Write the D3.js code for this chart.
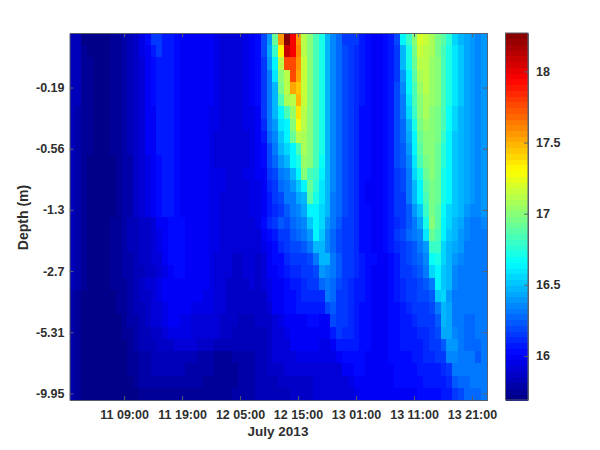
<!DOCTYPE html>
<html>
<head>
<meta charset="utf-8">
<script src="https://cdn.jsdelivr.net/npm/d3@7"></script>
<style>
html,body{margin:0;padding:0;background:#fff}
svg{display:block}
text{font-family:"Liberation Sans",Arial,sans-serif;font-weight:bold;fill:#2e2e2e}
</style>
</head>
<body>
<div id="chart"></div>
<script>
const depthLabels = ["-0.19","-0.56","-1.3","-2.7","-5.31","-9.95"];
const depthLabelRows = [4,9,14,19,24,29];
const timeLabels = ["11 09:00","11 19:00","12 05:00","12 15:00","13 01:00","13 11:00","13 21:00"];
const timeLabelCols = [9,19,29,39,49,59,69];
const colorTicks = [16,16.5,17,17.5,18];
const colorRange = [15.69,18.27];
const xTitle = "July 2013";
const yTitle = "Depth (m)";
const jetStops = ["#000080","#0000ff","#00ffff","#ffff00","#ff0000","#800000"];
const jetPositions = [0,0.125,0.375,0.625,0.875,1];
// Temperature, one row per depth (top to bottom), one value per hour.
const temperature = [
[15.83,15.82,15.72,15.72,15.72,15.72,15.72,15.74,15.75,15.79,15.83,15.88,15.95,16.04,16.14,16.14,16.09,16.06,16.02,16.01,16.01,16.01,16.0,15.99,15.98,15.95,15.93,15.93,15.93,15.93,15.95,15.99,16.04,16.2,16.4,16.91,17.56,18.27,17.95,17.56,17.14,16.98,16.85,16.72,16.49,16.36,16.27,16.17,16.14,16.14,16.07,16.02,16.01,16.01,16.04,16.07,16.2,16.62,16.78,16.98,17.2,17.17,17.07,16.94,16.88,16.75,16.56,16.49,16.43,16.40,16.36,16.40],
[15.83,15.82,15.75,15.72,15.72,15.72,15.72,15.74,15.75,15.79,15.83,15.88,15.94,15.99,16.07,16.14,16.09,16.06,16.02,16.01,16.01,16.01,16.0,15.99,15.98,15.95,15.93,15.93,15.93,15.93,15.95,15.99,16.04,16.2,16.43,16.78,17.33,18.08,17.95,17.59,17.14,16.98,16.85,16.72,16.49,16.36,16.27,16.2,16.14,16.13,16.07,16.02,16.01,16.01,16.03,16.07,16.17,16.46,16.72,16.94,17.17,17.14,17.07,16.94,16.85,16.72,16.59,16.53,16.43,16.40,16.36,16.40],
[15.83,15.82,15.77,15.74,15.72,15.72,15.72,15.74,15.75,15.79,15.82,15.87,15.92,15.98,16.04,16.09,16.09,16.07,16.03,16.01,16.01,16.01,16.0,15.99,15.98,15.95,15.93,15.93,15.92,15.92,15.95,15.98,16.03,16.17,16.4,16.65,17.11,17.78,17.78,17.56,17.17,16.98,16.85,16.72,16.49,16.36,16.27,16.2,16.14,16.13,16.07,16.02,16.01,16.01,16.03,16.07,16.17,16.46,16.72,16.91,17.11,17.14,17.04,16.98,16.85,16.72,16.59,16.53,16.43,16.40,16.36,16.40],
[15.83,15.82,15.77,15.74,15.72,15.72,15.72,15.74,15.75,15.79,15.82,15.87,15.92,15.98,16.04,16.09,16.09,16.07,16.03,16.01,16.01,16.01,16.0,15.99,15.98,15.95,15.93,15.92,15.92,15.92,15.95,15.98,16.02,16.14,16.33,16.59,17.0,17.14,17.75,17.53,17.17,16.98,16.85,16.72,16.49,16.36,16.27,16.2,16.14,16.13,16.07,16.02,16.01,16.01,16.03,16.07,16.17,16.4,16.65,16.88,17.07,17.11,17.04,16.98,16.85,16.72,16.59,16.53,16.43,16.40,16.36,16.40],
[15.83,15.82,15.77,15.74,15.72,15.72,15.72,15.74,15.75,15.79,15.82,15.87,15.92,15.98,16.04,16.09,16.09,16.07,16.03,16.01,16.01,16.01,16.0,15.99,15.98,15.94,15.93,15.92,15.92,15.92,15.95,15.98,16.02,16.14,16.33,16.49,16.94,17.14,17.53,17.46,17.17,16.98,16.85,16.72,16.49,16.36,16.27,16.2,16.15,16.11,16.07,16.02,16.01,16.01,16.03,16.07,16.2,16.36,16.62,16.85,17.04,17.11,17.04,16.98,16.85,16.72,16.59,16.53,16.43,16.40,16.36,16.40],
[15.83,15.82,15.77,15.74,15.72,15.72,15.72,15.74,15.75,15.79,15.82,15.87,15.92,15.98,16.04,16.09,16.09,16.07,16.03,16.01,16.01,16.01,16.0,15.99,15.98,15.94,15.93,15.92,15.91,15.91,15.95,15.98,16.02,16.14,16.33,16.46,16.82,17.07,17.14,17.49,17.17,16.98,16.85,16.72,16.49,16.36,16.27,16.2,16.15,16.11,16.07,16.02,16.01,16.01,16.03,16.07,16.2,16.33,16.59,16.82,17.01,17.07,17.04,16.98,16.85,16.72,16.59,16.53,16.43,16.40,16.36,16.40],
[15.83,15.81,15.77,15.74,15.72,15.72,15.72,15.74,15.75,15.78,15.82,15.87,15.92,15.98,16.01,16.07,16.07,16.07,16.02,16.01,16.01,16.01,16.0,15.99,15.97,15.94,15.93,15.92,15.91,15.91,15.94,15.97,16.01,16.14,16.30,16.46,16.65,16.85,17.04,17.36,17.14,16.98,16.85,16.72,16.49,16.36,16.27,16.2,16.15,16.11,16.04,16.02,16.01,16.01,16.03,16.07,16.2,16.3,16.56,16.78,16.98,17.07,17.01,16.94,16.82,16.69,16.56,16.49,16.43,16.40,16.36,16.40],
[15.83,15.81,15.77,15.74,15.72,15.72,15.72,15.74,15.75,15.78,15.82,15.87,15.92,15.98,16.01,16.07,16.07,16.07,16.02,16.01,16.01,16.01,16.0,15.99,15.97,15.94,15.92,15.91,15.91,15.91,15.94,15.97,16.01,16.12,16.33,16.40,16.59,16.65,16.98,17.27,17.11,16.98,16.85,16.72,16.49,16.36,16.27,16.2,16.15,16.11,16.04,16.02,16.01,16.01,16.03,16.07,16.2,16.27,16.49,16.72,16.94,17.04,17.01,16.94,16.82,16.69,16.56,16.49,16.43,16.40,16.36,16.40],
[15.83,15.81,15.77,15.74,15.72,15.72,15.72,15.74,15.75,15.78,15.82,15.87,15.92,15.98,16.01,16.07,16.07,16.07,16.02,16.01,16.01,16.01,16.0,15.99,15.97,15.93,15.92,15.91,15.9,15.9,15.93,15.96,16.0,16.07,16.27,16.36,16.53,16.65,16.91,17.11,17.07,16.98,16.85,16.72,16.49,16.36,16.27,16.2,16.15,16.11,16.04,16.02,16.01,16.01,16.03,16.07,16.2,16.27,16.43,16.65,16.91,17.01,17.01,16.94,16.78,16.65,16.53,16.49,16.43,16.40,16.36,16.40],
[15.83,15.81,15.77,15.74,15.72,15.72,15.72,15.74,15.75,15.78,15.82,15.87,15.92,15.98,16.01,16.07,16.07,16.07,16.02,16.01,16.01,16.01,16.0,15.99,15.97,15.93,15.92,15.9,15.9,15.9,15.92,15.95,15.98,16.04,16.2,16.33,16.46,16.56,16.65,16.82,17.07,16.98,16.85,16.72,16.49,16.36,16.27,16.2,16.15,16.11,16.04,16.02,16.01,16.01,16.03,16.07,16.2,16.24,16.4,16.62,16.88,16.98,16.98,16.91,16.75,16.65,16.53,16.49,16.43,16.40,16.36,16.40],
[15.83,15.79,15.74,15.72,15.72,15.72,15.72,15.73,15.75,15.78,15.81,15.86,15.91,15.96,16.01,16.03,16.06,16.06,16.03,16.01,16.01,16.01,16.0,15.98,15.97,15.93,15.91,15.9,15.9,15.9,15.92,15.95,15.98,16.04,16.2,16.27,16.4,16.46,16.62,16.72,17.04,16.98,16.85,16.69,16.49,16.36,16.27,16.2,16.15,16.11,16.04,16.02,16.01,16.01,16.03,16.07,16.2,16.24,16.36,16.59,16.82,16.94,16.98,16.91,16.75,16.65,16.53,16.49,16.43,16.40,16.36,16.40],
[15.83,15.79,15.74,15.72,15.72,15.72,15.72,15.73,15.75,15.78,15.81,15.86,15.91,15.96,16.01,16.03,16.06,16.06,16.03,16.01,16.01,16.01,16.0,15.98,15.97,15.96,15.94,15.93,15.92,15.92,15.94,15.96,15.98,16.01,16.14,16.2,16.3,16.36,16.46,16.65,16.98,16.85,16.78,16.62,16.49,16.36,16.27,16.2,16.15,16.11,16.04,16.02,16.01,16.01,16.03,16.07,16.17,16.2,16.33,16.56,16.72,16.91,16.98,16.91,16.72,16.62,16.53,16.49,16.43,16.40,16.36,16.40],
[15.83,15.79,15.74,15.72,15.72,15.72,15.72,15.73,15.75,15.78,15.81,15.86,15.91,15.96,16.01,16.03,16.06,16.06,16.03,16.01,16.01,16.01,16.0,15.98,15.97,15.95,15.94,15.92,15.92,15.92,15.93,15.95,15.96,16.0,16.11,16.14,16.27,16.33,16.4,16.53,16.65,16.91,16.75,16.59,16.49,16.36,16.27,16.2,16.14,16.11,16.04,16.01,16.01,16.01,16.03,16.07,16.14,16.2,16.3,16.49,16.65,16.88,16.94,16.91,16.72,16.62,16.53,16.46,16.43,16.40,16.36,16.40],
[15.83,15.79,15.74,15.72,15.72,15.72,15.72,15.73,15.75,15.78,15.81,15.86,15.91,15.96,16.01,16.03,16.06,16.06,16.03,16.01,16.01,16.01,16.0,15.98,15.97,15.95,15.93,15.92,15.91,15.91,15.93,15.95,15.95,15.99,16.09,16.14,16.2,16.3,16.33,16.43,16.49,16.88,16.72,16.59,16.46,16.33,16.27,16.2,16.14,16.11,16.04,16.01,16.01,16.01,16.03,16.07,16.14,16.17,16.3,16.46,16.62,16.85,16.94,16.91,16.72,16.62,16.53,16.46,16.43,16.40,16.36,16.40],
[15.83,15.79,15.74,15.72,15.72,15.72,15.72,15.73,15.75,15.78,15.81,15.86,15.91,15.96,16.01,16.03,16.06,16.06,16.03,16.01,16.01,16.01,16.0,15.98,15.97,15.95,15.93,15.91,15.91,15.91,15.93,15.95,15.95,15.98,16.07,16.11,16.17,16.24,16.3,16.36,16.43,16.65,16.65,16.56,16.46,16.33,16.27,16.2,16.14,16.11,16.04,16.02,16.01,16.01,16.03,16.07,16.14,16.14,16.24,16.40,16.53,16.78,16.94,16.88,16.69,16.56,16.53,16.46,16.4,16.36,16.36,16.4],
[15.83,15.79,15.75,15.72,15.72,15.72,15.73,15.74,15.76,15.79,15.82,15.83,15.87,15.89,15.93,15.98,16.01,16.02,16.04,16.03,16.01,16.01,16.0,15.98,15.96,15.95,15.93,15.91,15.9,15.9,15.92,15.93,15.95,16.04,16.11,16.14,16.24,16.2,16.27,16.33,16.36,16.53,16.65,16.56,16.4,16.3,16.24,16.17,16.14,16.11,16.05,16.02,16.01,16.01,16.03,16.06,16.1,16.17,16.24,16.33,16.43,16.72,16.98,16.88,16.65,16.56,16.49,16.43,16.36,16.33,16.33,16.36],
[15.83,15.79,15.75,15.72,15.72,15.72,15.73,15.74,15.76,15.79,15.82,15.84,15.87,15.89,15.92,15.96,16.0,16.02,16.04,16.03,16.01,16.01,16.0,15.98,15.96,15.94,15.92,15.91,15.9,15.9,15.92,15.92,15.92,15.98,16.04,16.07,16.14,16.17,16.24,16.27,16.3,16.4,16.62,16.53,16.36,16.27,16.2,16.17,16.14,16.11,16.05,16.02,16.01,16.01,16.03,16.06,16.14,16.2,16.27,16.3,16.36,16.59,16.91,16.85,16.62,16.53,16.46,16.4,16.36,16.33,16.33,16.33],
[15.83,15.79,15.75,15.72,15.72,15.72,15.73,15.74,15.76,15.79,15.82,15.84,15.87,15.89,15.92,15.95,15.99,16.02,16.03,16.03,16.01,16.01,16.0,15.98,15.96,15.94,15.92,15.9,15.9,15.9,15.91,15.92,15.91,15.95,16.01,16.04,16.11,16.14,16.2,16.2,16.24,16.3,16.49,16.46,16.36,16.27,16.2,16.17,16.14,16.11,16.05,16.02,16.01,16.01,16.02,16.06,16.11,16.17,16.2,16.24,16.33,16.4,16.78,16.78,16.56,16.46,16.43,16.4,16.33,16.33,16.33,16.33],
[15.83,15.79,15.75,15.72,15.72,15.72,15.73,15.74,15.76,15.79,15.81,15.83,15.86,15.88,15.9,15.93,15.98,16.02,16.03,16.03,16.01,16.01,16.0,15.98,15.96,15.93,15.92,15.9,15.89,15.89,15.9,15.92,15.89,15.93,15.99,16.03,16.04,16.11,16.14,16.14,16.17,16.2,16.33,16.46,16.46,16.33,16.24,16.17,16.14,16.11,16.07,16.04,16.02,16.01,16.01,16.03,16.07,16.17,16.2,16.24,16.27,16.36,16.69,16.72,16.56,16.46,16.4,16.36,16.33,16.33,16.33,16.33],
[15.82,15.78,15.74,15.72,15.72,15.72,15.73,15.74,15.75,15.78,15.81,15.83,15.85,15.87,15.89,15.92,15.96,16.01,16.03,16.03,16.01,16.01,16.01,15.99,15.97,15.93,15.91,15.9,15.89,15.89,15.9,15.92,15.89,15.92,15.98,16.01,16.03,16.07,16.11,16.11,16.14,16.17,16.2,16.4,16.36,16.33,16.24,16.17,16.14,16.11,16.07,16.04,16.01,16.01,16.01,16.03,16.07,16.14,16.17,16.2,16.24,16.3,16.56,16.65,16.53,16.46,16.36,16.33,16.33,16.33,16.33,16.33],
[15.82,15.78,15.74,15.72,15.72,15.72,15.73,15.74,15.75,15.77,15.8,15.83,15.87,15.9,15.92,15.95,15.99,16.01,16.01,16.01,16.01,16.01,15.99,15.98,15.97,15.93,15.91,15.89,15.89,15.88,15.89,15.91,15.88,15.91,15.96,16.0,16.01,16.04,16.07,16.07,16.11,16.14,16.17,16.27,16.3,16.27,16.2,16.14,16.11,16.09,16.06,16.04,16.01,16.01,16.01,16.03,16.07,16.11,16.14,16.17,16.2,16.24,16.33,16.65,16.53,16.46,16.36,16.33,16.3,16.3,16.33,16.33],
[15.81,15.77,15.73,15.72,15.71,15.71,15.72,15.73,15.75,15.77,15.8,15.82,15.86,15.89,15.91,15.94,15.98,16.0,16.01,16.0,16.0,15.99,15.98,15.97,15.96,15.92,15.9,15.89,15.88,15.87,15.88,15.89,15.87,15.89,15.94,16.0,16.01,16.02,16.04,16.07,16.11,16.11,16.1,16.1,16.3,16.27,16.17,16.14,16.11,16.09,16.06,16.03,16.01,16.01,16.01,16.03,16.06,16.11,16.14,16.17,16.2,16.2,16.24,16.53,16.56,16.4,16.33,16.33,16.3,16.3,16.3,16.33],
[15.81,15.77,15.73,15.71,15.71,15.71,15.71,15.72,15.74,15.76,15.79,15.82,15.85,15.88,15.9,15.93,15.97,15.99,16.0,15.99,15.98,15.97,15.96,15.95,15.94,15.92,15.9,15.88,15.87,15.87,15.87,15.88,15.86,15.87,15.92,15.98,16.01,16.02,16.04,16.07,16.07,16.07,16.07,16.09,16.2,16.24,16.17,16.14,16.11,16.07,16.05,16.03,16.01,16.01,16.01,16.02,16.05,16.09,16.11,16.14,16.17,16.17,16.2,16.3,16.49,16.43,16.33,16.3,16.3,16.3,16.3,16.33],
[15.8,15.76,15.72,15.71,15.7,15.7,15.71,15.72,15.73,15.75,15.78,15.8,15.83,15.87,15.9,15.92,15.96,15.98,15.98,15.97,15.95,15.93,15.93,15.92,15.92,15.9,15.88,15.86,15.86,15.85,15.85,15.85,15.86,15.86,15.88,15.93,15.97,15.98,16.01,16.01,16.01,16.02,16.02,16.01,16.01,16.2,16.17,16.14,16.11,16.07,16.05,16.02,16.01,16.01,16.01,16.02,16.04,16.07,16.09,16.11,16.14,16.14,16.17,16.24,16.46,16.43,16.33,16.3,16.27,16.27,16.3,16.33],
[15.8,15.76,15.72,15.7,15.7,15.7,15.7,15.71,15.72,15.74,15.76,15.78,15.82,15.84,15.86,15.89,15.93,15.95,15.95,15.95,15.94,15.93,15.93,15.92,15.91,15.9,15.88,15.86,15.85,15.84,15.84,15.84,15.85,15.85,15.87,15.91,15.93,15.96,16.01,16.01,16.01,16.01,16.0,15.99,15.99,16.07,16.14,16.12,16.11,16.07,16.05,16.02,16.01,16.01,16.01,16.02,16.04,16.07,16.09,16.09,16.11,16.11,16.14,16.2,16.43,16.43,16.36,16.3,16.27,16.27,16.3,16.33],
[15.79,15.75,15.72,15.7,15.69,15.69,15.7,15.7,15.71,15.73,15.75,15.78,15.82,15.83,15.85,15.87,15.88,15.89,15.91,15.91,15.9,15.9,15.89,15.89,15.88,15.85,15.84,15.83,15.83,15.82,15.82,15.82,15.83,15.85,15.87,15.9,15.91,15.93,15.98,15.98,16.0,16.0,15.98,15.97,15.97,16.01,16.09,16.09,16.07,16.06,16.04,16.02,16.01,16.01,16.01,16.03,16.04,16.07,16.07,16.07,16.09,16.11,16.14,16.17,16.24,16.4,16.4,16.3,16.27,16.27,16.27,16.3],
[15.79,15.75,15.72,15.7,15.69,15.69,15.69,15.7,15.71,15.72,15.75,15.77,15.8,15.8,15.83,15.84,15.85,15.84,15.83,15.83,15.82,15.82,15.81,15.8,15.79,15.77,15.77,15.77,15.78,15.79,15.8,15.81,15.83,15.85,15.87,15.9,15.91,15.92,15.92,15.95,15.95,15.95,15.95,15.95,15.95,15.95,15.98,16.03,16.04,16.04,16.03,16.01,16.01,16.01,16.01,16.02,16.03,16.04,16.04,16.06,16.07,16.11,16.11,16.14,16.17,16.36,16.36,16.33,16.33,16.3,16.24,16.3],
[15.78,15.74,15.71,15.69,15.68,15.68,15.68,15.69,15.71,15.72,15.74,15.76,15.79,15.8,15.82,15.82,15.82,15.82,15.82,15.82,15.81,15.8,15.8,15.79,15.78,15.75,15.75,15.75,15.76,15.78,15.8,15.81,15.83,15.85,15.87,15.88,15.89,15.91,15.92,15.93,15.93,15.93,15.92,15.92,15.93,15.93,15.93,15.99,16.0,16.03,16.02,16.01,16.01,16.01,16.01,16.01,16.02,16.02,16.03,16.04,16.06,16.07,16.07,16.07,16.11,16.17,16.3,16.3,16.3,16.3,16.3,16.3],
[15.78,15.74,15.71,15.69,15.68,15.68,15.68,15.69,15.7,15.71,15.73,15.75,15.78,15.79,15.8,15.81,15.81,15.81,15.8,15.8,15.8,15.79,15.78,15.77,15.76,15.75,15.75,15.75,15.76,15.78,15.8,15.81,15.83,15.84,15.85,15.85,15.86,15.87,15.88,15.88,15.88,15.89,15.9,15.91,15.92,15.92,15.92,15.92,15.95,15.98,16.01,16.01,16.01,16.01,16.01,16.01,16.02,16.03,16.03,16.04,16.04,16.07,16.07,16.07,16.07,16.11,16.24,16.27,16.27,16.3,16.3,16.3],
[15.78,15.74,15.71,15.69,15.68,15.68,15.68,15.68,15.69,15.7,15.71,15.73,15.76,15.76,15.77,15.77,15.77,15.77,15.77,15.76,15.76,15.75,15.75,15.75,15.75,15.75,15.76,15.77,15.78,15.79,15.8,15.81,15.82,15.82,15.83,15.83,15.83,15.85,15.87,15.88,15.88,15.89,15.9,15.91,15.91,15.91,15.91,15.91,15.92,15.95,15.98,15.99,15.99,15.99,16.0,16.0,16.01,16.01,16.01,16.01,16.02,16.04,16.04,16.04,16.07,16.07,16.14,16.2,16.27,16.27,16.27,16.3]
];

const W = 600, H = 450;
const plot = {x0:69.5, x1:487, y0:33, y1:400};
const bar = {x0:505.5, x1:528, y0:33, y1:400};
const axisColor = "#5a5f6e", levels = 64;

const jet = d3.scaleLinear().domain(jetPositions).range(jetStops).interpolate(d3.interpolateRgb);
const levelColors = d3.range(levels).map(i => jet((i + 0.5) / levels));
const color = d3.scaleQuantize().domain(colorRange).range(levelColors);

const svg = d3.select("#chart").append("svg").attr("width", W).attr("height", H);

const nRows = temperature.length, nCols = temperature[0].length;
const x = d3.scaleBand().domain(d3.range(nCols)).range([plot.x0, plot.x1]);
const y = d3.scaleBand().domain(d3.range(nRows)).range([plot.y0, plot.y1]);

const cells = temperature.flatMap((row, r) => row.map((v, c) => ({r, c, v})));
svg.append("g").attr("shape-rendering","crispEdges").selectAll("rect").data(cells).join("rect")
  .attr("x", d => x(d.c)).attr("y", d => y(d.r))
  .attr("width", x.bandwidth() + 0.5).attr("height", y.bandwidth() + 0.5)
  .attr("fill", d => color(d.v));

function styleAxis(g, fontSize){
  g.selectAll("path").attr("stroke", axisColor).attr("stroke-width", 1);
  g.selectAll("line").attr("stroke", axisColor).attr("stroke-width", 1);
  g.selectAll("text").style("font-size", fontSize + "px");
  g.attr("font-family", null);
}
const xLabelOf = c => timeLabels[timeLabelCols.indexOf(c)];
const yLabelOf = r => depthLabels[depthLabelRows.indexOf(r)];

svg.append("g").attr("transform",`translate(0,${plot.y1})`)
  .call(d3.axisBottom(x).tickValues(timeLabelCols).tickFormat(xLabelOf).tickSize(-4).tickSizeOuter(0).tickPadding(10))
  .call(styleAxis, 12.5);
svg.append("g").attr("transform",`translate(0,${plot.y0})`)
  .call(d3.axisTop(x).tickValues(timeLabelCols).tickFormat("").tickSize(-4).tickSizeOuter(0))
  .call(styleAxis, 12.5);
svg.append("g").attr("transform",`translate(${plot.x0},0)`)
  .call(d3.axisLeft(y).tickValues(depthLabelRows).tickFormat(yLabelOf).tickSize(-4).tickSizeOuter(0).tickPadding(5))
  .call(styleAxis, 12.5);
svg.append("g").attr("transform",`translate(${plot.x1},0)`)
  .call(d3.axisRight(y).tickValues(depthLabelRows).tickFormat("").tickSize(-4).tickSizeOuter(0))
  .call(styleAxis, 12.5);

// Colour bar
const cb = d3.scaleLinear().domain(colorRange).range([bar.y1, bar.y0]);
const step = (colorRange[1] - colorRange[0]) / levels;
svg.append("g").attr("shape-rendering","crispEdges").selectAll("rect").data(levelColors).join("rect")
  .attr("x", bar.x0).attr("width", bar.x1 - bar.x0)
  .attr("y", (d,i) => cb(colorRange[0] + (i + 1) * step))
  .attr("height", (bar.y1 - bar.y0) / levels + 0.5)
  .attr("fill", d => d);
svg.append("rect").attr("x", bar.x0).attr("y", bar.y0).attr("width", bar.x1 - bar.x0).attr("height", bar.y1 - bar.y0)
  .attr("fill","none").attr("stroke", axisColor);
svg.append("g").attr("transform",`translate(${bar.x1},0)`)
  .call(d3.axisRight(cb).tickValues(colorTicks).tickFormat(d3.format("")).tickSize(-4).tickSizeOuter(0).tickPadding(8))
  .call(styleAxis, 12.5);

svg.append("text").attr("x", 278).attr("y", 436).attr("text-anchor","middle").style("font-size","13.5px").text(xTitle);
svg.append("text").attr("transform","translate(28,217.5) rotate(-90)").attr("text-anchor","middle").style("font-size","14px").text(yTitle);
</script>
</body>
</html>
